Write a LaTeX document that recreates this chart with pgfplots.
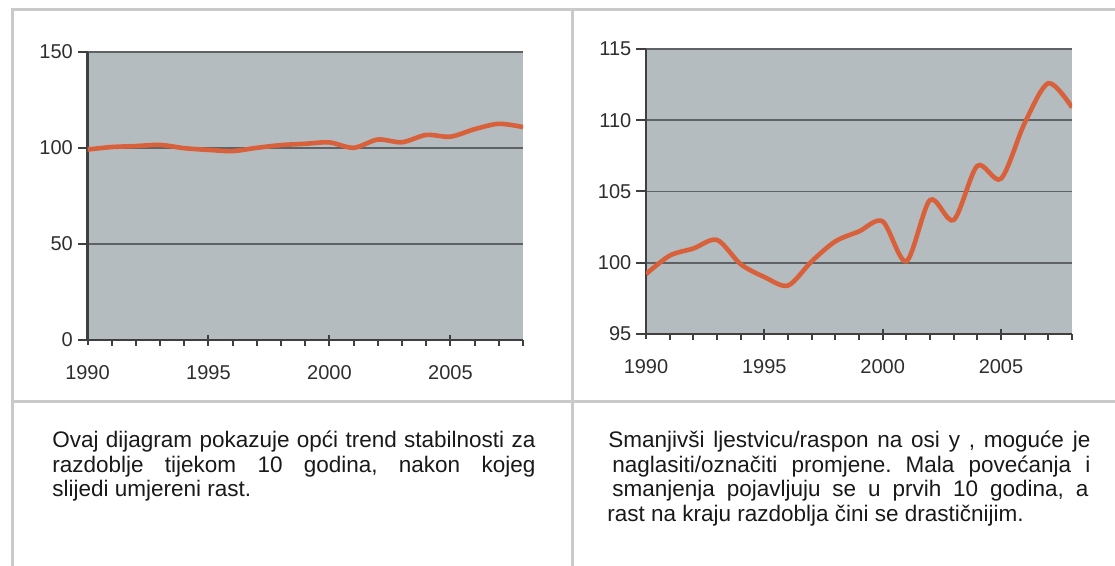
\documentclass[border=0pt]{standalone}
\usepackage{pgfplots}
\usepackage{pgfplotstable}
\pgfplotsset{compat=1.18}
\usepackage{fontspec}
\setmainfont{Liberation Sans}
\definecolor{plotbg}{HTML}{B5BCBF}
\definecolor{gridcol}{HTML}{5F6264}
\definecolor{axiscol}{HTML}{3F3F3F}
\definecolor{linecol}{HTML}{D8613C}
\definecolor{framecol}{HTML}{CACACA}
\definecolor{labelcol}{HTML}{2E2E2E}

\pgfplotstableread{
year value
1990 99.2
1991 100.5
1992 101.0
1993 101.6
1994 99.9
1995 99.0
1996 98.4
1997 100.1
1998 101.5
1999 102.2
2000 102.9
2001 100.1
2002 104.4
2003 103.0
2004 106.8
2005 105.9
2006 109.8
2007 112.6
2008 110.9
}\index

\pgfplotsset{
  panel/.style={
    anchor=south west,
    scale only axis,
    xmin=1990, xmax=2008,
    axis x line*=bottom, axis y line*=left,
    axis line style={draw=axiscol, line width=1.4pt},
    axis background/.style={fill=plotbg},
    ymajorgrids,
    grid style={draw=gridcol, line width=0.9pt},
    xtick={1990,1995,2000,2005},
    minor xtick={1991,...,2008},
    tick align=outside,
    major tick length=5pt,
    minor tick length=3pt,
    tick style={draw=axiscol, line width=1pt},
    major x tick style={yshift=2.5pt},
    /pgf/number format/1000 sep={},
    /pgf/number format/assume math mode=true,
    ticklabel style={font=\fontsize{10}{12}\selectfont, text=labelcol},
    xticklabel style={yshift=-4pt},
    yticklabel style={xshift=1.2pt},
  },
  curve/.style={draw=linecol, line width=2.3pt, smooth, tension=0.5, no markers},
}

\begin{document}
\frenchspacing
\begin{tikzpicture}
\useasboundingbox (0,0) rectangle (557.5pt,-283pt);

% frame of the table
\draw[framecol, line width=1.5pt] (6pt,-283pt) -- (6pt,-5pt) -- (557.5pt,-5pt);
\draw[framecol, line width=1.5pt] (286pt,-5pt) -- (286pt,-283pt);
\draw[framecol, line width=1.5pt] (6pt,-201pt) -- (557.5pt,-201pt);

\begin{axis}[panel,
  at={(43.75pt,-170pt)},
  width=217.75pt, height=144pt,
  ymin=0, ymax=150, ytick={0,50,100,150},
]
\addplot[curve] table[x=year,y=value] {\index};
\end{axis}

\begin{axis}[panel,
  at={(323pt,-167pt)},
  width=213pt, height=142.5pt,
  ymin=95, ymax=115, ytick={95,100,105,110,115},
]
\addplot[curve] table[x=year,y=value] {\index};
\end{axis}

\begin{scope}[every node/.style={anchor=base west, inner sep=0pt, text=black!90,
    font=\fontsize{11.25}{12.5}\selectfont}]
\node at (26pt,-224pt) {\makebox[241.5pt][s]{Ovaj dijagram pokazuje opći trend stabilnosti za}};
\node at (26pt,-236.25pt) {\makebox[241.5pt][s]{razdoblje tijekom 10 godina, nakon kojeg}};
\node at (26pt,-248.5pt) {slijedi umjereni rast.};

\node at (304pt,-224pt) {\makebox[241pt][s]{Smanjivši ljestvicu/raspon na osi y , moguće je}};
\node at (306pt,-236.25pt) {\makebox[239pt][s]{naglasiti/označiti promjene. Mala povećanja i}};
\node at (306pt,-248.5pt) {\makebox[238pt][s]{smanjenja pojavljuju se u prvih 10 godina, a}};
\node at (303.5pt,-260.75pt) {rast na kraju razdoblja čini se drastičnijim.};
\end{scope}
\end{tikzpicture}
\end{document}
